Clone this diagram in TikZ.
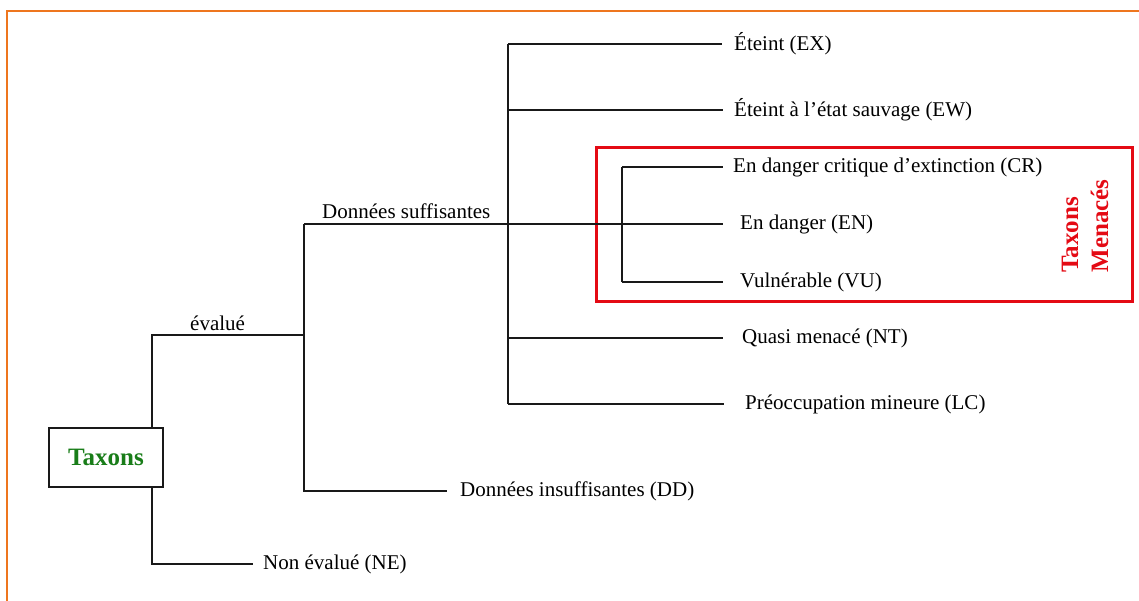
\documentclass[tikz,border=0pt]{standalone}
\usepackage{fontspec}
\setmainfont{Liberation Serif}
\definecolor{taxgreen}{RGB}{25,125,25}
\definecolor{menred}{RGB}{228,10,20}
\definecolor{frameorange}{RGB}{238,118,30}
\begin{document}
\begin{tikzpicture}[x=1pt,y=-1pt,
  link/.style={draw=black!90, line width=1.6pt},
  lbl/.style={font=\fontsize{21}{25}\selectfont, inner sep=0pt, anchor=west},
  rootbox/.style={draw=black!90, line width=2.2pt, minimum width=114pt, minimum height=59pt, inner sep=0pt,
    font=\bfseries\fontsize{25}{30}\selectfont, text=taxgreen},
  redbox/.style={draw=menred, line width=3pt, minimum width=536pt, minimum height=153pt, inner sep=0pt},
  redlbl/.style={font=\bfseries\fontsize{25}{30}\selectfont, text=menred, rotate=90, align=left, inner sep=0pt},
  frameline/.style={draw=frameorange, line width=2pt}]
\useasboundingbox (0,0) rectangle (1139,601);
% frame
\coordinate (f0) at (7,11);
\coordinate (f1) at (1139,11);
\coordinate (f2) at (7,601);
\draw[frameline] (f2) -- (f0) -- (f1);
% threatened box
\node[redbox] (menace) at (864,224.5) {};
\node[redlbl] (menlbl) at (1085,226) {Taxons\\Menacés};
% root
\node[rootbox] (tax) at (106,457.5) {Taxons};
% junctions
\coordinate (c1) at (152,335);
\coordinate (c2) at (304,335);
\coordinate (c3) at (152,564);
\coordinate (c4) at (304,224);
\coordinate (c5) at (304,491);
\coordinate (c6) at (508,44);
\coordinate (c7) at (508,404);
\coordinate (c8) at (622,167);
\coordinate (c9) at (622,282);
% labels
\node[lbl, anchor=base west] (ev) at (190,330) {évalué};
\node[lbl, anchor=base west] (ds) at (322,219) {Données suffisantes};
\node[lbl] (ne) at (263,564) {Non évalué (NE)};
\node[lbl] (dd) at (460,491) {Données insuffisantes (DD)};
\node[lbl] (ex) at (734,44) {Éteint (EX)};
\node[lbl] (ew) at (734,110) {Éteint à l’état sauvage (EW)};
\node[lbl] (cr) at (733,167) {En danger critique d’extinction (CR)};
\node[lbl] (en) at (740,224) {En danger (EN)};
\node[lbl] (vu) at (740,282) {Vulnérable (VU)};
\node[lbl] (nt) at (742,338) {Quasi menacé (NT)};
\node[lbl] (lc) at (745,404) {Préoccupation mineure (LC)};
% connectors
\draw[link] (tax.north -| c1) -- (c1) -- (c2);
\draw[link] (tax.south -| c1) -- (c3) -- ([xshift=-10pt]ne.west);
\draw[link] (c4) -- (c5) -- ([xshift=-13pt]dd.west);
\draw[link] (c4) -- ([xshift=-17pt]en.west);
\draw[link] (c6) -- (c7);
\draw[link] (c6) -- ([xshift=-12pt]ex.west);
\draw[link] (c6 |- ew.west) -- ([xshift=-11pt]ew.west);
\draw[link] (c6 |- nt.west) -- ([xshift=-19pt]nt.west);
\draw[link] (c7) -- ([xshift=-21pt]lc.west);
\draw[link] (c8) -- (c9);
\draw[link] (c8) -- ([xshift=-10pt]cr.west);
\draw[link] (c9) -- ([xshift=-17pt]vu.west);
\end{tikzpicture}
\end{document}
